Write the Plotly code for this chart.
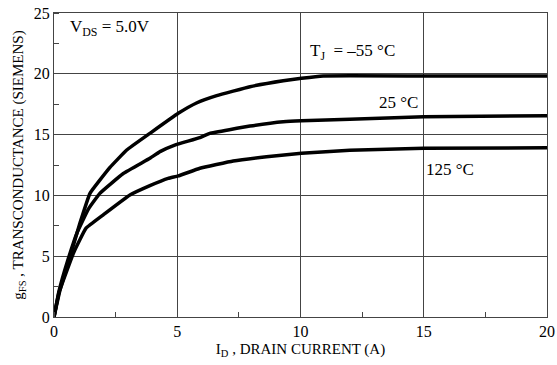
import plotly.graph_objects as go

# -55 C curve
x_m55 = [0, 0.24, 0.65, 1.05, 1.46, 2.27, 2.95, 3.89, 5.04, 5.78, 6.6, 7.95, 9.3, 10.04, 10.92, 15.0, 20.0]
y_m55 = [0, 2.2, 4.96, 7.7, 10.17, 12.3, 13.73, 15.1, 16.75, 17.6, 18.2, 18.94, 19.43, 19.63, 19.82, 19.82, 19.82]
# 25 C curve
x_25 = [0, 0.2, 0.55, 0.95, 1.4, 1.86, 2.81, 3.89, 4.3, 4.9, 5.92, 6.32, 7.95, 9.3, 10.04, 12.0, 15.0, 20.0]
y_25 = [0, 2.1, 4.6, 7.0, 8.9, 10.17, 11.8, 13.05, 13.6, 14.14, 14.75, 15.1, 15.7, 16.06, 16.14, 16.26, 16.47, 16.55]
# 125 C curve
x_125 = [0, 0.2, 0.8, 1.3, 2.0, 3.08, 3.89, 4.63, 5.04, 5.92, 7.27, 8.62, 10.04, 12.0, 15.0, 20.0]
y_125 = [0, 2.0, 5.3, 7.3, 8.4, 10.03, 10.8, 11.4, 11.6, 12.23, 12.83, 13.18, 13.46, 13.72, 13.87, 13.92]

x_ticks = [0, 5, 10, 15, 20]
y_ticks = [0, 5, 10, 15, 20, 25]

FONT = "Liberation Serif, Times New Roman, serif"

fig = go.Figure()
for xs, ys in [(x_m55, y_m55), (x_25, y_25), (x_125, y_125)]:
    fig.add_trace(go.Scatter(x=xs, y=ys, mode="lines",
                             line=dict(color="black", width=3.5, shape="spline", smoothing=0.3),
                             showlegend=False, hoverinfo="skip"))

annos = [
    dict(x=0.57, y=23.8, text="V<sub>DS</sub> = 5.0V"),
    dict(x=10.3, y=21.8, text="T<sub>J</sub>  = \u201355 \u00b0C"),
    dict(x=13.1, y=17.6, text="25 \u00b0C"),
    dict(x=15.0, y=12.1, text="125 \u00b0C"),
]
for a in annos:
    fig.add_annotation(x=a["x"], y=a["y"], text=a["text"], showarrow=False,
                       xanchor="left", yanchor="middle",
                       font=dict(family=FONT, size=17, color="black"))

fig.update_layout(
    width=557, height=365,
    margin=dict(l=54, r=10, t=13, b=48),
    paper_bgcolor="white", plot_bgcolor="white",
    font=dict(family=FONT, size=15, color="black"),
    xaxis=dict(range=[0, 20], tickvals=x_ticks, ticktext=[str(v) for v in x_ticks],
               automargin=False,
               showgrid=True, gridcolor="#444", gridwidth=1,
               showline=True, linecolor="#444", linewidth=1, mirror=True,
               ticks="", zeroline=False,
               minor=dict(dtick=2.5, tick0=0, ticks="inside", ticklen=5, tickcolor="#444", showgrid=False),
               title=dict(text="I<sub>D</sub> , DRAIN CURRENT (A)", font=dict(family=FONT, size=15), standoff=4),
               tickfont=dict(family=FONT, size=16)),
    yaxis=dict(range=[0, 25], tickvals=y_ticks, ticktext=[str(v) for v in y_ticks],
               automargin=False,
               showgrid=True, gridcolor="#444", gridwidth=1,
               showline=True, linecolor="#444", linewidth=1, mirror=True,
               ticks="", zeroline=False,
               minor=dict(dtick=2.5, tick0=0, ticks="inside", ticklen=5, tickcolor="#444", showgrid=False),
               title=dict(text="g<sub>FS</sub> , TRANSCONDUCTANCE (SIEMENS)", font=dict(family=FONT, size=15), standoff=6),
               tickfont=dict(family=FONT, size=16)),
)

fig.write_html("out.html")
